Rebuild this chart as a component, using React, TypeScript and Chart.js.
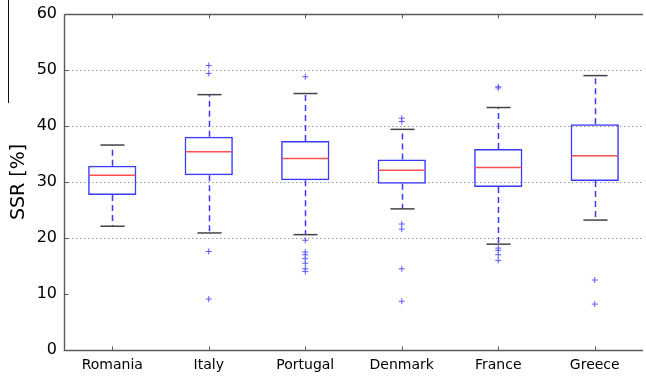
import React, { useEffect, useRef } from "react";
import { Chart, registerables } from "chart.js";

Chart.register(...registerables);

const categories = ["Romania", "Italy", "Portugal", "Denmark", "France", "Greece"];
const lowerWhisker = [22.1, 20.9, 20.6, 25.2, 18.9, 23.2];
const q1Values = [27.7, 31.2, 30.3, 29.7, 29.1, 30.2];
const medianValues = [31.2, 35.4, 34.2, 32.1, 32.6, 34.7];
const q3Values = [32.9, 38.1, 37.3, 34.0, 35.9, 40.3];
const upperWhisker = [36.6, 45.6, 45.8, 39.4, 43.3, 49.0];
const outlierValues: number[][] = [
  [],
  [50.8, 49.4, 17.6, 9.1],
  [48.8, 19.6, 17.5, 17.0, 16.3, 15.5, 14.5, 14.0],
  [41.4, 40.8, 22.5, 21.6, 14.5, 8.7],
  [47.0, 46.8, 18.2, 17.8, 17.0, 16.0],
  [12.5, 8.2],
];
const yTicks = [0, 10, 20, 30, 40, 50, 60];
const gridValues = [20, 30, 40, 50];

const FONT = "'DejaVu Sans', sans-serif";

const boxPlugin = {
  id: "boxExtras",
  beforeDatasetsDraw(chart: any) {
    const { ctx, chartArea, scales } = chart;
    const x = scales.x;
    const y = scales.y;
    ctx.save();
    // dotted grid lines
    ctx.strokeStyle = "#9a9a9a";
    ctx.lineWidth = 1;
    ctx.setLineDash([1.5, 2.5]);
    gridValues.forEach((v) => {
      const py = Math.round(y.getPixelForValue(v)) + 0.5;
      ctx.beginPath();
      ctx.moveTo(chartArea.left, py);
      ctx.lineTo(chartArea.right, py);
      ctx.stroke();
    });
    ctx.setLineDash([]);
    // whiskers
    const half = (x.getPixelForValue(1) - x.getPixelForValue(0)) * 0.125;
    categories.forEach((_, i) => {
      const px = Math.round(x.getPixelForValue(i)) + 0.5;
      ctx.strokeStyle = "#3a3aff";
      ctx.lineWidth = 1.5;
      ctx.setLineDash([6, 4]);
      ctx.beginPath();
      ctx.moveTo(px, y.getPixelForValue(q3Values[i]));
      ctx.lineTo(px, y.getPixelForValue(upperWhisker[i]));
      ctx.stroke();
      ctx.beginPath();
      ctx.moveTo(px, y.getPixelForValue(q1Values[i]));
      ctx.lineTo(px, y.getPixelForValue(lowerWhisker[i]));
      ctx.stroke();
      ctx.setLineDash([]);
      ctx.strokeStyle = "#444444";
      ctx.lineWidth = 1.5;
      [upperWhisker[i], lowerWhisker[i]].forEach((v) => {
        const py = y.getPixelForValue(v);
        ctx.beginPath();
        ctx.moveTo(px - half, py);
        ctx.lineTo(px + half, py);
        ctx.stroke();
      });
    });
    ctx.restore();
  },
  afterDatasetsDraw(chart: any) {
    const { ctx, chartArea, scales } = chart;
    const x = scales.x;
    const y = scales.y;
    ctx.save();
    const half = (x.getPixelForValue(1) - x.getPixelForValue(0)) * 0.25;
    // medians
    ctx.strokeStyle = "#ff5050";
    ctx.lineWidth = 1.5;
    categories.forEach((_, i) => {
      const px = x.getPixelForValue(i);
      const py = y.getPixelForValue(medianValues[i]);
      ctx.beginPath();
      ctx.moveTo(px - half + 1, py);
      ctx.lineTo(px + half - 1, py);
      ctx.stroke();
    });
    // spines
    ctx.strokeStyle = "#5a5a5a";
    ctx.lineWidth = 1.4;
    const L = Math.round(chartArea.left) + 0.5;
    const B = Math.round(chartArea.bottom) + 0.5;
    const T = Math.round(chartArea.top) + 0.5;
    const R = chartArea.right;
    ctx.beginPath();
    ctx.moveTo(L, T);
    ctx.lineTo(R, T);
    ctx.moveTo(L, T);
    ctx.lineTo(L, B);
    ctx.lineTo(R, B);
    ctx.stroke();
    // inward ticks
    ctx.lineWidth = 1;
    categories.forEach((_, i) => {
      const px = Math.round(x.getPixelForValue(i)) + 0.5;
      ctx.beginPath();
      ctx.moveTo(px, B);
      ctx.lineTo(px, B - 4);
      ctx.moveTo(px, T);
      ctx.lineTo(px, T + 4);
      ctx.stroke();
    });
    yTicks.forEach((v) => {
      const py = Math.round(y.getPixelForValue(v)) + 0.5;
      ctx.beginPath();
      ctx.moveTo(L, py);
      ctx.lineTo(L + 4, py);
      ctx.stroke();
    });
    // stray frame line at far left
    ctx.strokeStyle = "#111111";
    ctx.lineWidth = 1;
    ctx.beginPath();
    ctx.moveTo(8.5, 0);
    ctx.lineTo(8.5, 103);
    ctx.stroke();
    ctx.restore();
  },
};

export default function App() {
  const ref = useRef<HTMLCanvasElement | null>(null);
  useEffect(() => {
    if (!ref.current) return;
    const outlierPoints: { x: string; y: number }[] = [];
    outlierValues.forEach((list, i) =>
      list.forEach((v) => outlierPoints.push({ x: categories[i], y: v }))
    );
    const chart = new Chart(ref.current, {
      type: "bar",
      data: {
        labels: categories,
        datasets: [
          {
            type: "bar",
            data: categories.map((_, i) => [q1Values[i], q3Values[i]]) as any,
            backgroundColor: "rgba(0,0,0,0)",
            borderColor: "#3a3aff",
            borderWidth: 1.5,
            borderSkipped: false,
            barPercentage: 0.5,
            categoryPercentage: 1,
          },
          {
            type: "scatter",
            data: outlierPoints as any,
            pointStyle: "cross",
            radius: 3,
            borderColor: "#5a5aff",
            borderWidth: 1,
            backgroundColor: "#5a5aff",
          } as any,
        ],
      },
      options: {
        animation: false,
        responsive: false,
        devicePixelRatio: 1,
        layout: { padding: { top: 14, right: 0, bottom: 0, left: 0 } },
        plugins: {
          legend: { display: false },
          tooltip: { enabled: false },
        },
        scales: {
          x: {
            type: "category",
            offset: true,
            grid: { display: false, drawTicks: false },
            border: { display: false },
            ticks: {
              color: "#000",
              padding: 7,
              font: { family: FONT, size: 14 },
              maxRotation: 0,
            },
            afterFit: (s: any) => {
              s.height = 30;
              s.paddingLeft = 0;
              s.paddingRight = 0;
            },
          },
          y: {
            min: 0,
            max: 60,
            grid: { display: false, drawTicks: false },
            border: { display: false },
            ticks: {
              stepSize: 10,
              color: "#000",
              padding: 7,
              font: { family: FONT, size: 16 },
            },
            title: {
              display: true,
              text: "SSR [%]",
              color: "#000",
              font: { family: FONT, size: 19 },
              padding: { top: 8, bottom: 0 },
            },
            afterFit: (s: any) => {
              s.width = 64;
              s.paddingTop = 0;
              s.paddingBottom = 0;
            },
          },
        },
      },
      plugins: [boxPlugin],
    });
    return () => chart.destroy();
  }, []);
  return (
    <div
      style={{
        position: "fixed",
        left: 0,
        top: 0,
        width: 646,
        height: 380,
        overflow: "hidden",
        background: "#fff",
      }}
    >
      <canvas ref={ref} width={648} height={380} style={{ width: 648, height: 380, display: "block" }} />
    </div>
  );
}
